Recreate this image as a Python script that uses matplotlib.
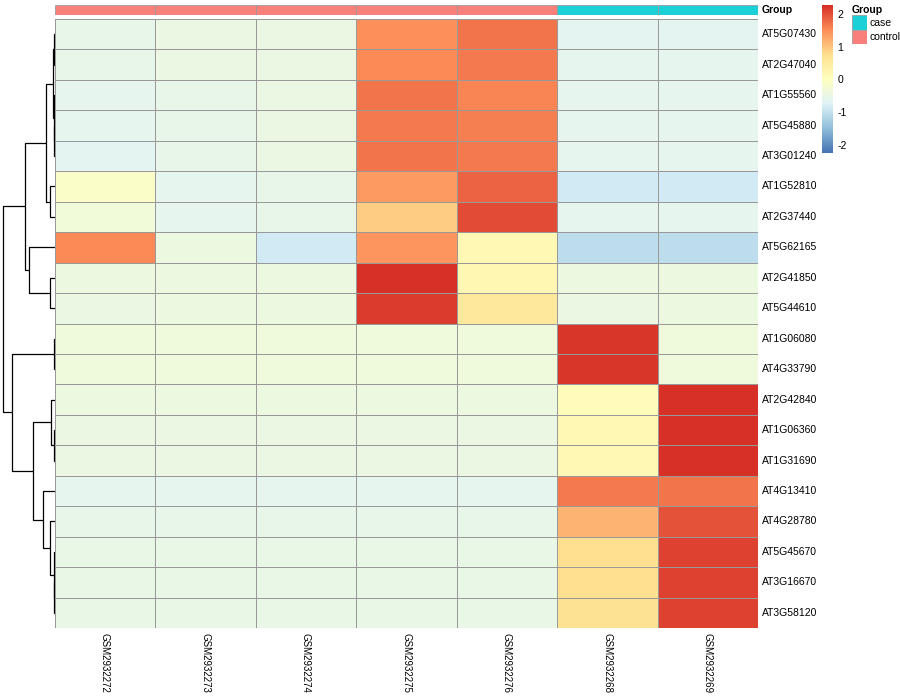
import numpy as np
import matplotlib
matplotlib.use('Agg')
from matplotlib import pyplot as plt
from matplotlib.colors import LinearSegmentedColormap, Normalize

plt.rcParams['font.family'] = ['Liberation Sans', 'DejaVu Sans']

genes = ['AT5G07430', 'AT2G47040', 'AT1G55560', 'AT5G45880', 'AT3G01240',
         'AT1G52810', 'AT2G37440', 'AT5G62165', 'AT2G41850', 'AT5G44610',
         'AT1G06080', 'AT4G33790', 'AT2G42840', 'AT1G06360', 'AT1G31690',
         'AT4G13410', 'AT4G28780', 'AT5G45670', 'AT3G16670', 'AT3G58120']
samples = ['GSM2932272', 'GSM2932273', 'GSM2932274', 'GSM2932275',
           'GSM2932276', 'GSM2932268', 'GSM2932269']
groups = ['control', 'control', 'control', 'control', 'control', 'case', 'case']

# row-scaled expression (z-scores)
values = [
    [-0.52, -0.42, -0.42, 1.50, 1.75, -0.60, -0.60],
    [-0.52, -0.42, -0.42, 1.55, 1.70, -0.58, -0.58],
    [-0.55, -0.50, -0.45, 1.75, 1.60, -0.58, -0.58],
    [-0.55, -0.50, -0.45, 1.70, 1.65, -0.58, -0.58],
    [-0.62, -0.52, -0.45, 1.72, 1.70, -0.58, -0.58],
    [-0.05, -0.55, -0.52, 1.40, 1.85, -0.85, -0.85],
    [-0.30, -0.55, -0.52, 0.95, 2.05, -0.58, -0.58],
    [1.55, -0.40, -0.85, 1.45, 0.20, -1.00, -1.00],
    [-0.40, -0.38, -0.38, 2.30, 0.25, -0.40, -0.40],
    [-0.42, -0.38, -0.38, 2.20, 0.60, -0.42, -0.38],
    [-0.36, -0.36, -0.36, -0.36, -0.36, 2.25, -0.33],
    [-0.36, -0.36, -0.36, -0.36, -0.36, 2.25, -0.33],
    [-0.40, -0.40, -0.40, -0.40, -0.40, 0.10, 2.30],
    [-0.42, -0.42, -0.42, -0.42, -0.42, 0.20, 2.30],
    [-0.42, -0.42, -0.42, -0.42, -0.42, 0.20, 2.30],
    [-0.55, -0.58, -0.55, -0.55, -0.55, 1.70, 1.75],
    [-0.50, -0.50, -0.50, -0.50, -0.50, 1.20, 2.00],
    [-0.48, -0.48, -0.48, -0.48, -0.48, 0.80, 2.15],
    [-0.48, -0.48, -0.48, -0.48, -0.48, 0.80, 2.15],
    [-0.48, -0.48, -0.48, -0.48, -0.48, 0.75, 2.15],
]

# row dendrogram: (left, right, height); leaves 0..19, clusters 20..
linkage = [
    (0, 1, 0.5), (3, 4, 0.8), (2, 21, 1.0), (20, 22, 1.7), (5, 6, 5.0),
    (23, 24, 9.0), (8, 9, 4.7), (7, 26, 25.3), (25, 27, 30.0),
    (10, 11, 0.3), (13, 14, 0.3), (12, 30, 3.3), (18, 19, 0.3),
    (17, 32, 0.8), (16, 33, 5.0), (15, 34, 11.3), (31, 35, 21.7),
    (29, 36, 42.3), (28, 37, 51.3),
]

group_colors = {'case': '#1BD0D6', 'control': '#F9807A'}
ramp = ['#4575B4', '#91BFDB', '#E0F3F8', '#FFFFBF', '#FEE090', '#FC8D59', '#D73027']
cmap = LinearSegmentedColormap.from_list('rdylbu', ramp, N=100)
norm = Normalize(vmin=-2.21, vmax=2.3)

W, H = 900, 700


def px_axes(fig, x0, y0, x1, y1):
    return fig.add_axes([x0 / W, 1 - y1 / H, (x1 - x0) / W, (y1 - y0) / H])


fig = plt.figure(figsize=(9, 7), dpi=100)
mat = np.array(values)
nr, nc = mat.shape
grid = '#999999'

# heatmap
ax = px_axes(fig, 54.5, 19, 758, 628)
ax.pcolormesh(mat, cmap=cmap, norm=norm, edgecolors=grid, linewidth=0.55)
ax.set_xlim(0, nc)
ax.set_ylim(nr, 0)
ax.axis('off')
for i, g in enumerate(genes):
    ax.text(nc + 0.04, i + 0.5, g, fontsize=7.5, va='center', ha='left')
for j, s in enumerate(samples):
    ax.text(j + 0.5, nr + 0.15, s, fontsize=7, rotation=270, ha='center', va='top')

# annotation bar
ax_a = px_axes(fig, 54.5, 5, 758, 15)
for j, g in enumerate(groups):
    ax_a.add_patch(plt.Rectangle((j, 0), 1, 1, facecolor=group_colors[g],
                                 edgecolor=grid, linewidth=0.55))
ax_a.set_xlim(0, nc)
ax_a.set_ylim(0, 1)
ax_a.axis('off')
ax_a.text(nc + 0.04, 0.5, 'Group', fontsize=7.5, fontweight='bold', va='center', ha='left')

# dendrogram
ax_d = px_axes(fig, 0, 19, 54.5, 628)
pos = {i: i + 0.5 for i in range(nr)}
hgt = {i: 0.0 for i in range(nr)}
for k, (a, b, h) in enumerate(linkage):
    cid = nr + k
    ax_d.plot([hgt[a], h, h, hgt[b]], [pos[a], pos[a], pos[b], pos[b]],
              color='black', linewidth=0.9, solid_capstyle='butt')
    pos[cid] = (pos[a] + pos[b]) / 2
    hgt[cid] = h
ax_d.set_xlim(54.5, 0)
ax_d.set_ylim(nr, 0)
ax_d.axis('off')

# colour legend
ax_c = px_axes(fig, 822, 5, 833, 153)
grad = np.linspace(norm.vmin, norm.vmax, 100).reshape(-1, 1)
ax_c.imshow(grad, aspect='auto', cmap=cmap, norm=norm, origin='lower',
            extent=[0, 1, norm.vmin, norm.vmax])
ax_c.set_xlim(0, 1)
ax_c.set_ylim(norm.vmin, norm.vmax)
ax_c.axis('off')
for t in [-2, -1, 0, 1, 2]:
    ax_c.text(1.4, t, str(t), fontsize=7.5, va='center', ha='left')

# group legend
fig.text(852 / W, 1 - 10 / H, 'Group', fontsize=7.5, fontweight='bold', va='center', ha='left')
for k, g in enumerate(['case', 'control']):
    y0 = 15 + k * 14.7
    la = px_axes(fig, 852, y0, 867, y0 + 14.7)
    la.add_patch(plt.Rectangle((0, 0), 1, 1, facecolor=group_colors[g],
                               edgecolor=grid, linewidth=0.55))
    la.set_xlim(0, 1)
    la.set_ylim(0, 1)
    la.axis('off')
    fig.text(869 / W, 1 - (y0 + 7.5) / H, g, fontsize=7.5, va='center', ha='left')

fig.savefig('out.png', dpi=100)
